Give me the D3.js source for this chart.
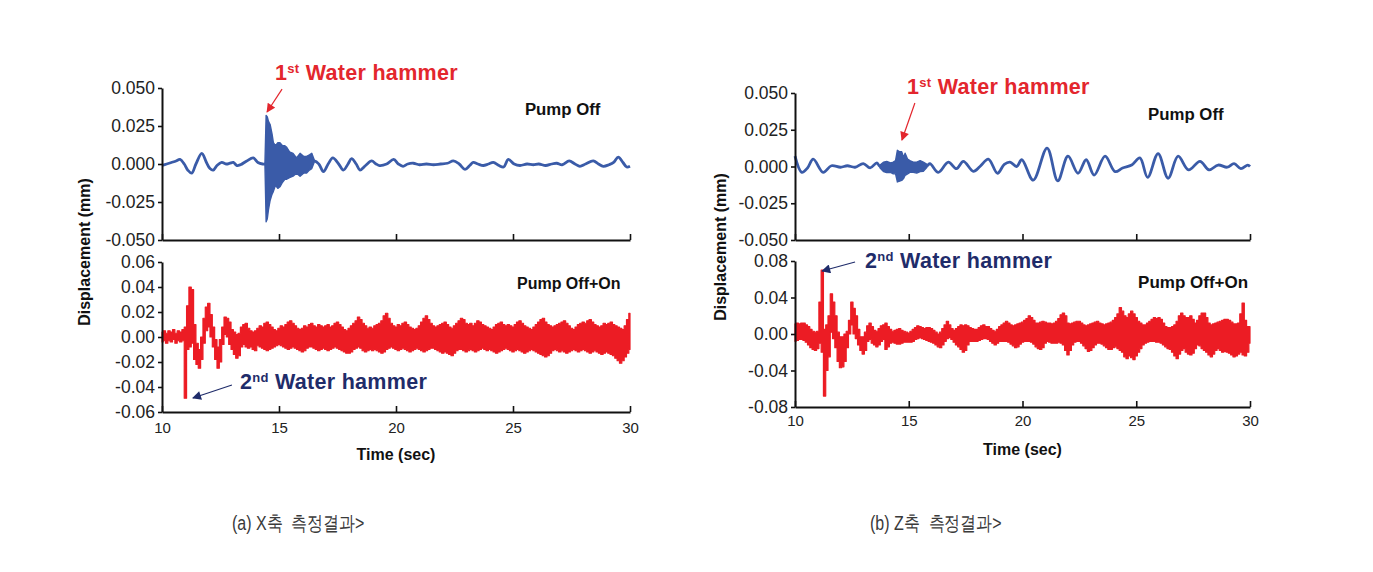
<!DOCTYPE html>
<html><head><meta charset="utf-8">
<script src="https://cdn.jsdelivr.net/npm/d3@7"></script>
<style>
body{margin:0;background:#fff;}
svg{display:block;}
text{font-family:"Liberation Sans",Arial,sans-serif;}
</style></head><body>
<script>
// ---------------- DATA (displacement in micrometres, time in seconds) ----------------
const timeTicks = [10, 15, 20, 25, 30];
const xTopTicks = [-0.05, -0.025, 0, 0.025, 0.05];
const xBotTicks = [-0.06, -0.04, -0.02, 0, 0.02, 0.04, 0.06];
const zTopTicks = [-0.05, -0.025, 0, 0.025, 0.05];
const zBotTicks = [-0.08, -0.04, 0, 0.04, 0.08];

// X axis, Pump Off: smooth wave [time, um]
const xTopWave = [[10.0,-1],[10.2,0],[10.4,1],[10.6,2],[10.77,3],[10.95,0],[11.1,-4],[11.27,-6],[11.45,0],[11.7,7],
 [11.9,1],[12.05,-3],[12.19,-4],[12.35,-1],[12.55,1],[12.75,0],[12.9,0.5],[13.05,1],[13.2,-1],[13.35,-0.5],
 [13.62,2],[13.9,4],[14.1,1],[14.3,0],[14.4,0],
 [16.5,2],[16.7,0],[16.9,-5],[17.1,0],[17.3,4],[17.55,0],[17.75,-4],[17.95,0],[18.1,3.5],[18.3,0],
 [18.46,-4],[18.7,-1],[18.96,2],[19.15,0],[19.3,-1],[19.6,0],[19.9,3],[20.1,0],[20.3,-1.5],[20.5,0],
 [20.74,0.5],[21.0,-0.5],[21.3,0],[21.6,-0.5],[21.9,0],[22.2,0.5],[22.45,2],[22.7,0],[22.95,-3.5],[23.15,-1],
 [23.3,1],[23.5,0],[23.73,-1],[23.95,0],[24.16,1],[24.4,-1],[24.6,-2],[24.8,3],[25.05,0],[25.3,-1],
 [25.6,0],[25.87,-0.5],[26.1,0],[26.4,-1],[26.65,0],[26.87,0.5],[27.1,-0.5],[27.4,2],[27.65,0],[27.86,-1.5],
 [28.1,0],[28.43,2],[28.65,0],[28.86,-1.5],[29.1,-0.5],[29.3,1],[29.5,4.5],[29.7,1],[29.86,-2],[30.0,-1.5]];
// X axis, Pump Off: burst envelope [time, max um, min um]
const xTopBurst = [[14.40,1,-1],[14.45,32,-38],[14.5,31,-36],[14.55,28,-30],[14.62,26,-24],[14.7,20,-20],
 [14.76,14,-18],[14.85,12,-14],[14.95,14,-16],[15.04,14,-15],[15.15,12,-12],[15.25,12,-10],[15.33,11,-10],
 [15.45,8,-9],[15.6,7,-8],[15.75,4,-6],[15.9,7,-8],[16.05,5,-6],[16.18,5,-6],[16.3,6,-4],[16.4,7,-3],[16.5,3,1]];

// X axis, Pump Off+On: envelope max / min every 0.1 s from 10.0 s
const xBotMax = [
 4,5,3,5,4,6,3,5,4,6,
 8,25,40,38,10,-5,-10,0,15,24,
 27,18,8,-2,-8,-2,8,16,15,12,
 6,4,2,3,8,10,11,7,5,4,
 5,7,9,8,11,12,10,8,6,5,
 7,9,8,10,12,13,11,9,7,6,
 7,9,8,10,11,9,8,10,9,8,
 9,10,8,9,11,12,10,8,6,5,
 7,9,11,13,16,14,11,9,7,8,
 7,9,10,11,13,17,19,15,11,9,
 8,10,9,11,12,10,8,7,6,7,
 9,12,15,17,14,11,9,8,9,10,
 11,12,10,8,7,9,11,13,15,14,
 11,10,11,9,11,13,12,10,9,8,
 7,6,8,10,11,12,10,9,10,9,
 8,10,12,13,11,9,8,7,6,8,
 10,12,14,15,12,10,9,8,9,10,
 11,12,13,11,9,7,6,8,10,11,
 12,11,13,14,12,10,9,8,9,11,
 10,11,12,10,9,8,7,6,9,14,
 19];
const xBotMin = [
 -4,-3,-5,-3,-4,-2,-5,-3,-4,-3,
 -49,-10,-8,-5,-18,-22,-25,-18,-5,5,
 8,0,-8,-18,-25,-20,-6,2,0,-6,
 -10,-14,-17,-15,-8,-6,-8,-9,-8,-10,
 -11,-7,-8,-9,-10,-11,-10,-9,-8,-7,
 -6,-7,-8,-9,-10,-9,-8,-9,-10,-11,
 -12,-11,-9,-8,-8,-9,-10,-11,-10,-9,
 -10,-11,-10,-9,-8,-9,-10,-11,-12,-13,
 -13,-12,-10,-9,-8,-9,-11,-12,-11,-10,
 -11,-10,-11,-12,-13,-12,-10,-9,-8,-9,
 -10,-11,-10,-9,-10,-11,-12,-11,-10,-9,
 -10,-11,-12,-11,-10,-9,-9,-10,-11,-12,
 -13,-12,-13,-14,-15,-13,-11,-10,-10,-11,
 -12,-11,-10,-11,-12,-11,-10,-9,-10,-11,
 -10,-11,-12,-13,-12,-11,-10,-9,-10,-11,
 -12,-11,-10,-11,-12,-13,-12,-11,-10,-11,
 -12,-13,-14,-15,-16,-15,-13,-11,-10,-11,
 -12,-11,-12,-13,-12,-11,-10,-11,-12,-11,
 -10,-11,-12,-13,-12,-11,-12,-13,-14,-13,
 -12,-13,-14,-15,-17,-19,-21,-19,-16,-13,
 -10];

// Z axis, Pump Off
const zTopWave = [[10.0,7],[10.3,-4],[10.55,-1],[10.8,5],[11.24,-4],[11.6,0.5],[12.0,-0.5],[12.3,0.5],[12.64,-0.5],
 [13.0,2],[13.3,-1],[13.6,2.5],[13.74,0],
 [15.8,0.5],[15.93,2],[16.3,-4],[16.74,3],[17.1,-1.5],[17.4,3.5],[17.84,-3.3],[18.13,0],[18.5,5],[18.9,-4.6],
 [19.2,1.5],[19.45,3],[19.74,0],[19.97,4.6],[20.47,-9.3],[21.08,12.5],[21.55,-9.7],[22.0,7],[22.44,-4.6],
 [22.8,4.6],[23.15,-5.8],[23.63,7],[24.07,-3.5],[24.4,-1],[24.8,1],[25.16,5.8],[25.5,-7.4],[25.96,8.8],
 [26.4,-8],[26.84,7],[27.3,-2.3],[27.8,3.5],[28.2,-2.3],[28.6,1],[29.0,-0.5],[29.3,2],[29.6,-1.5],[29.9,1],[30.0,0]];
const zTopBurst = [[13.74,1,-1],[13.9,3,-3.5],[14.03,3.5,-4.2],[14.2,2.5,-4],[14.32,3,-5],[14.42,4,-5],
 [14.5,11,-10.5],[14.6,10,-10],[14.69,10,-9.5],[14.78,6,-8],[14.84,9,-6],[14.95,5,-5],[15.05,4,-4],
 [15.2,3,-4],[15.35,3,-4.5],[15.5,4,-3.5],[15.64,3,-3.3],[15.8,1.5,-0.5]];

// Z axis, Pump Off+On: envelope max / min every 0.1 s from 10.0 s
const zBotMax = [
 11,12,11,12,12,10,8,5,3,2,
 3,35,70,5,10,20,44,35,20,2,
 -3,-3,0,3,15,35,28,20,5,-3,
 -3,2,9,12,8,4,3,6,9,10,
 12,8,5,3,4,5,6,4,3,2,
 1,3,5,7,9,8,7,6,7,7,
 6,4,2,0,2,6,10,14,10,6,
 4,6,8,10,9,10,9,7,6,5,
 5,7,9,10,8,8,6,4,3,5,
 8,10,12,14,12,10,9,10,11,12,
 13,15,17,20,18,15,12,12,13,14,
 13,12,12,11,12,14,17,21,23,20,
 12,11,12,13,14,14,12,10,9,10,
 11,12,13,14,12,11,10,11,12,13,
 15,18,22,29,25,20,18,22,25,22,
 18,14,12,10,10,12,14,16,18,17,
 18,16,12,8,7,7,8,10,14,20,
 23,20,18,18,20,16,12,15,20,23,
 23,18,12,10,11,12,13,14,15,16,
 16,15,13,11,11,12,22,34,15,8,
 8];
const zBotMin = [
 -8,-7,-6,-6,-7,-9,-12,-15,-17,-18,
 -16,-10,-20,-68,-40,-25,2,-5,-15,-30,
 -37,-36,-30,-15,0,10,0,-5,-12,-18,
 -22,-18,-8,-6,-10,-12,-14,-12,-8,-6,
 -17,-14,-10,-9,-10,-11,-11,-10,-9,-9,
 -9,-9,-8,-6,-5,-4,-5,-6,-7,-8,
 -9,-10,-12,-14,-15,-12,-8,-5,-4,-6,
 -9,-12,-14,-17,-20,-18,-12,-8,-8,-8,
 -8,-7,-6,-5,-5,-6,-8,-10,-12,-10,
 -8,-8,-8,-8,-9,-11,-13,-15,-14,-11,
 -9,-8,-8,-8,-9,-11,-14,-16,-17,-15,
 -10,-8,-9,-10,-10,-10,-9,-10,-12,-18,
 -23,-18,-12,-9,-8,-8,-10,-13,-16,-19,
 -18,-15,-12,-10,-10,-11,-13,-15,-17,-17,
 -15,-14,-16,-18,-20,-25,-27,-24,-26,-28,
 -24,-20,-16,-12,-10,-9,-8,-8,-8,-9,
 -9,-10,-12,-14,-16,-17,-20,-24,-27,-22,
 -18,-16,-20,-22,-23,-21,-16,-12,-13,-16,
 -18,-20,-23,-25,-22,-18,-16,-18,-20,-19,
 -20,-21,-23,-25,-24,-22,-20,-23,-24,-20,
 -10];

const envStart = 10, envStep = 0.1;
const captions = ["(a) X축  측정결과>", "(b) Z축  측정결과>"];

// ---------------- DRAWING ----------------
const BLUE = "#3a5ba8", RED = "#ec1c24", NAVY = "#1f2c6a", ANN_RED = "#e3262d";
const svg = d3.select("body").append("svg").attr("width", 1373).attr("height", 572);
const defs = svg.append("defs");
function marker(id, color) {
  defs.append("marker").attr("id", id).attr("viewBox", "0 0 10 10")
    .attr("refX", 9).attr("refY", 5).attr("markerWidth", 11).attr("markerHeight", 9)
    .attr("markerUnits", "userSpaceOnUse").attr("orient", "auto")
    .append("path").attr("d", "M0,0L10,5L0,10z").attr("fill", color);
}
marker("arrRed", ANN_RED);
marker("arrNavy", NAVY);

const um = v => v / 1000;
const fmt = p => d => d3.format(p)(d).replace("\u2212", "-");

function styleAxis(g) {
  g.select(".domain").attr("stroke", "#111").attr("stroke-width", 2);
  g.selectAll(".tick line").attr("stroke", "#111").attr("stroke-width", 1.6);
}

function panel(cfg) {
  const g = svg.append("g");
  const x = d3.scaleLinear().domain([10, 30]).range([cfg.xl, cfg.xr]);
  const y = d3.scaleLinear().domain(cfg.dom).range([cfg.yb, cfg.yt]);

  if (cfg.wave) {
    g.append("path").datum(cfg.wave)
      .attr("d", d3.line().x(d => x(d[0])).y(d => y(um(d[1]))).curve(d3.curveCatmullRom.alpha(0.5)))
      .attr("fill", "none").attr("stroke", BLUE).attr("stroke-width", 2.8).attr("stroke-linejoin", "round");
  }
  if (cfg.burst) {
    g.append("path").datum(cfg.burst)
      .attr("d", d3.area().x(d => x(d[0])).y0(d => y(um(d[2]))).y1(d => y(um(d[1]))))
      .attr("fill", BLUE).attr("stroke", BLUE).attr("stroke-width", 1.4).attr("stroke-linejoin", "round");
  }
  if (cfg.max) {
    const rows = cfg.max.map((m, i) => ({t: envStart + i * envStep, hi: m, lo: cfg.min[i]}));
    g.append("path").datum(rows)
      .attr("d", d3.area().x(d => x(d.t)).y0(d => y(um(d.lo))).y1(d => y(um(d.hi))).curve(d3.curveStep))
      .attr("fill", RED).attr("stroke", RED).attr("stroke-width", 1.2).attr("stroke-linejoin", "round");
  }

  const ya = g.append("g").attr("transform", `translate(${cfg.xl},0)`)
    .call(d3.axisLeft(y).tickValues(cfg.ticks).tickFormat(fmt(cfg.fmt)).tickSizeInner(4).tickSizeOuter(0).tickPadding(3));
  styleAxis(ya);
  ya.selectAll("text").attr("font-size", 17.5).attr("fill", "#222").attr("font-family", "Liberation Sans, Arial, sans-serif");

  const xa = g.append("g").attr("transform", `translate(0,${cfg.yb})`)
    .call(d3.axisBottom(x).tickValues(timeTicks).tickSizeInner(-6).tickSizeOuter(0).tickPadding(cfg.labPad || 9)
      .tickFormat(cfg.labels ? d3.format("d") : ""));
  styleAxis(xa);
  xa.selectAll("text").attr("font-size", 15).attr("fill", "#222").attr("font-family", "Liberation Sans, Arial, sans-serif");

  return {x, y, g};
}

function label(p, t, v, txt, size) {
  p.g.append("text").attr("x", p.x(t)).attr("y", p.y(v)).attr("font-weight", "bold")
    .attr("font-size", size).attr("fill", "#111").text(txt);
}

function annotate(p, a) {
  const col = a.color;
  p.g.append("line").attr("x1", p.x(a.tail[0])).attr("y1", p.y(a.tail[1]))
    .attr("x2", p.x(a.tip[0])).attr("y2", p.y(a.tip[1]))
    .attr("stroke", col).attr("stroke-width", 1.2).attr("marker-end", `url(#${a.marker})`);
  const t = p.g.append("text").attr("x", p.x(a.at[0])).attr("y", p.y(a.at[1]))
    .attr("font-family", "Open Sans, sans-serif").attr("font-weight", "bold")
    .attr("font-size", 21.5).attr("letter-spacing", 0.3).attr("fill", col);
  t.append("tspan").text(a.num);
  t.append("tspan").attr("dy", -7).attr("font-size", 13).text(a.sup);
  t.append("tspan").attr("dy", 7).text(" Water hammer");
}

// ---- chart (a) X axis ----
const xt = panel({xl: 162, xr: 630, yt: 88, yb: 240, dom: [-0.05, 0.05], ticks: xTopTicks, fmt: ".3f",
  wave: xTopWave, burst: xTopBurst, labels: false});
const xb = panel({xl: 162, xr: 630, yt: 262, yb: 412, dom: [-0.06, 0.06], ticks: xBotTicks, fmt: ".2f",
  max: xBotMax, min: xBotMin, labels: true, labPad: 10});
label(xt, 25.51, 0.0325, "Pump Off", 16.8);
label(xb, 25.17, 0.0385, "Pump Off+On", 16);
annotate(xt, {num: "1", sup: "st", color: ANN_RED, marker: "arrRed", at: [14.83, 0.0553], tail: [15.13, 0.0493], tip: [14.49, 0.0342]});
annotate(xb, {num: "2", sup: "nd", color: NAVY, marker: "arrNavy", at: [13.33, -0.0416], tail: [12.99, -0.0384], tip: [11.32, -0.0488]});
svg.append("text").attr("transform", "translate(90,252) rotate(-90)").attr("text-anchor", "middle")
  .attr("font-weight", "bold").attr("font-size", 16).attr("fill", "#111").text("Displacement (mm)");
svg.append("text").attr("x", xb.x(20)).attr("y", 460).attr("text-anchor", "middle")
  .attr("font-weight", "bold").attr("font-size", 16).attr("fill", "#111").text("Time (sec)");

// ---- chart (b) Z axis ----
const zt = panel({xl: 795, xr: 1250, yt: 93, yb: 240, dom: [-0.05, 0.05], ticks: zTopTicks, fmt: ".3f",
  wave: zTopWave, burst: zTopBurst, labels: false});
const zb = panel({xl: 795, xr: 1250, yt: 261, yb: 407, dom: [-0.08, 0.08], ticks: zBotTicks, fmt: ".2f",
  max: zBotMax, min: zBotMin, labels: true, labPad: 8});
label(zt, 25.52, 0.0316, "Pump Off", 16.8);
label(zb, 25.08, 0.0504, "Pump Off+On", 17);
annotate(zt, {num: "1", sup: "st", color: ANN_RED, marker: "arrRed", at: [14.92, 0.0493], tail: [15.27, 0.0432], tip: [14.70, 0.018]});
annotate(zb, {num: "2", sup: "nd", color: NAVY, marker: "arrNavy", at: [13.08, 0.0723], tail: [12.64, 0.0789], tip: [11.19, 0.069]});
svg.append("text").attr("transform", "translate(726,247) rotate(-90)").attr("text-anchor", "middle")
  .attr("font-weight", "bold").attr("font-size", 16).attr("fill", "#111").text("Displacement (mm)");
svg.append("text").attr("x", zb.x(20)).attr("y", 455).attr("text-anchor", "middle")
  .attr("font-weight", "bold").attr("font-size", 16).attr("fill", "#111").text("Time (sec)");

// ---- captions ----
[[232, captions[0]], [870, captions[1]]].forEach(([cx, txt]) => {
  svg.append("text").attr("transform", `translate(${cx},530) scale(0.8,1)`)
    .attr("font-family", "Noto Sans CJK KR, sans-serif").attr("font-weight", 300)
    .attr("font-size", 20).attr("fill", "#3a3a3a").style("white-space", "pre").text(txt);
});
</script>
</body></html>
